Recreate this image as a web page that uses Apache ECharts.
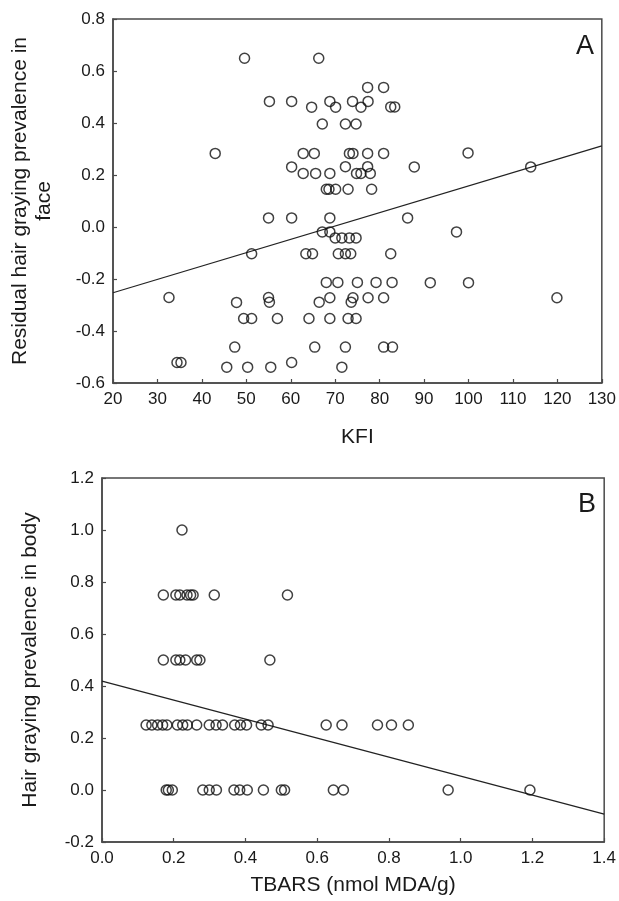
<!DOCTYPE html>
<html>
<head>
<meta charset="utf-8">
<script src="https://cdn.jsdelivr.net/npm/echarts@6/dist/echarts.min.js"></script>
<style>
  html, body { margin: 0; padding: 0; background: #fff; }
  #chart { width: 619px; height: 901px; }
</style>
</head>
<body>
<div id="chart"></div>
<script>
// Panel A: KFI vs residual hair graying prevalence in face
const kfi = [
  49.6, 66.3,
  77.3, 80.9,
  55.2, 60.2, 64.7, 68.8, 70.1, 73.9, 75.8, 77.4, 82.5, 83.4,
  67.1, 72.3, 74.7,
  43.0, 62.8, 65.3, 73.2, 74.0, 77.3, 80.9, 99.9,
  60.2, 72.3, 77.3, 87.8, 114.0,
  62.8, 65.6, 68.8, 74.8, 75.8, 77.9,
  68.0, 68.6, 70.1, 72.9, 78.2,
  55.0, 60.2, 68.8, 86.3,
  67.1, 68.8, 97.3,
  70.0, 71.5, 73.2, 74.7,
  51.2, 63.4, 64.9, 70.7, 72.3, 73.5, 82.5,
  68.0, 70.6, 75.0, 79.2, 82.8, 91.4, 100.0,
  32.6, 55.0, 68.8, 74.0, 77.4, 80.9, 119.9,
  47.8, 55.2, 66.4, 73.6,
  49.4, 51.2, 57.0, 64.1, 68.8, 72.9, 74.7,
  47.4, 65.4, 72.3, 80.9, 82.9,
  34.4, 35.3, 60.2,
  45.6, 50.3, 55.5, 71.5
];
const faceResidual = [
  0.649, 0.649,
  0.537, 0.537,
  0.483, 0.483, 0.461, 0.483, 0.461, 0.483, 0.461, 0.483, 0.462, 0.462,
  0.396, 0.396, 0.396,
  0.283, 0.283, 0.283, 0.283, 0.283, 0.283, 0.283, 0.285,
  0.231, 0.232, 0.232, 0.231, 0.231,
  0.206, 0.206, 0.206, 0.206, 0.206, 0.206,
  0.145, 0.145, 0.145, 0.145, 0.145,
  0.035, 0.035, 0.035, 0.035,
  -0.019, -0.019, -0.019,
  -0.042, -0.042, -0.042, -0.042,
  -0.103, -0.103, -0.103, -0.103, -0.103, -0.103, -0.103,
  -0.213, -0.213, -0.213, -0.213, -0.213, -0.214, -0.214,
  -0.271, -0.271, -0.272, -0.272, -0.272, -0.272, -0.272,
  -0.290, -0.289, -0.289, -0.289,
  -0.352, -0.352, -0.352, -0.352, -0.352, -0.352, -0.352,
  -0.462, -0.462, -0.462, -0.462, -0.462,
  -0.521, -0.521, -0.521,
  -0.539, -0.539, -0.539, -0.539
];
// fitted regression line, endpoints at the axis limits
const fitAx = [20, 130];
const fitAy = [-0.253, 0.312];

// Panel B: TBARS vs hair graying prevalence in body
const tbars = [
  0.223,
  0.171, 0.206, 0.217, 0.237, 0.247, 0.254, 0.313, 0.517,
  0.171, 0.206, 0.217, 0.233, 0.264, 0.273, 0.468,
  0.123, 0.139, 0.155, 0.169, 0.181, 0.210, 0.225, 0.238, 0.264, 0.299, 0.318,
  0.336, 0.370, 0.386, 0.403, 0.444, 0.463, 0.625, 0.669, 0.768, 0.807, 0.854,
  0.179, 0.185, 0.196, 0.281, 0.299, 0.319, 0.368, 0.384, 0.405, 0.450,
  0.500, 0.509, 0.645, 0.673, 0.965, 1.193
];
const bodyPrevalence = [
  1.0,
  0.75, 0.75, 0.75, 0.75, 0.75, 0.75, 0.75, 0.75,
  0.5, 0.5, 0.5, 0.5, 0.5, 0.5, 0.5,
  0.25, 0.25, 0.25, 0.25, 0.25, 0.25, 0.25, 0.25, 0.25, 0.25, 0.25,
  0.25, 0.25, 0.25, 0.25, 0.25, 0.25, 0.25, 0.25, 0.25, 0.25, 0.25,
  0, 0, 0, 0, 0, 0, 0, 0, 0, 0,
  0, 0, 0, 0, 0, 0
];
const fitBx = [0, 1.4];
const fitBy = [0.419, -0.093];

const kfiTicks = { min: 20, max: 130, step: 10 };
const faceTicks = { min: -0.6, max: 0.8, step: 0.2 };
const tbarsTicks = { min: 0, max: 1.4, step: 0.2 };
const bodyTicks = { min: -0.2, max: 1.2, step: 0.2 };

const FONT = 'Liberation Sans, Arial, sans-serif';
const INK = '#1a1a1a';
const FRAME = '#4a4a4a';

const pairs = (xs, ys) => xs.map((x, i) => [x, ys[i]]);

function valueAxis(t, gridIndex, extra) {
  return Object.assign({
    type: 'value',
    gridIndex: gridIndex,
    min: t.min,
    max: t.max,
    interval: t.step,
    splitLine: { show: false },
    axisLine: { show: true, onZero: false, lineStyle: { color: FRAME, width: 1.5 } },
    axisTick: { show: true, inside: true, length: 4, lineStyle: { color: FRAME, width: 1.2 } },
    axisLabel: {
      color: INK, fontFamily: FONT, fontSize: 17,
      formatter: v => (t.step < 1 ? v.toFixed(1) : String(v))
    },
    nameLocation: 'middle',
    nameTextStyle: { color: INK, fontFamily: FONT, fontSize: 21, lineHeight: 24 }
  }, extra);
}

const scatterStyle = {
  type: 'scatter',
  symbol: 'circle',
  symbolSize: 10,
  itemStyle: { color: 'rgba(255,255,255,0)', borderColor: '#111', borderWidth: 1.5 },
  silent: true
};
const fitStyle = {
  type: 'line',
  symbol: 'none',
  lineStyle: { color: '#222', width: 1.2 },
  silent: true,
  z: 1
};

const chart = echarts.init(document.getElementById('chart'), null, { renderer: 'canvas' });
chart.setOption({
  animation: false,
  backgroundColor: '#ffffff',
  title: [
    { text: 'A', right: 20, top: 28, textStyle: { fontFamily: FONT, fontSize: 27, fontWeight: 'normal', color: INK } },
    { text: 'B', right: 18, top: 486, textStyle: { fontFamily: FONT, fontSize: 27, fontWeight: 'normal', color: INK } }
  ],
  grid: [
    { left: 112, right: 16, top: 19, height: 364, show: true, borderColor: FRAME, borderWidth: 1.5 },
    { left: 102, right: 14, top: 478, height: 364, show: true, borderColor: FRAME, borderWidth: 1.5 }
  ],
  xAxis: [
    valueAxis(kfiTicks, 0, { name: 'KFI', nameGap: 42, axisLabel: { color: INK, fontFamily: FONT, fontSize: 17, margin: 8 } }),
    valueAxis(tbarsTicks, 1, { name: 'TBARS (nmol MDA/g)', nameGap: 31,
      axisLabel: { color: INK, fontFamily: FONT, fontSize: 17, margin: 8, formatter: v => v.toFixed(1) } })
  ],
  yAxis: [
    valueAxis(faceTicks, 0, { name: 'Residual hair graying prevalence in\nface', nameGap: 57 }),
    valueAxis(bodyTicks, 1, { name: 'Hair graying prevalence in body', nameGap: 60 })
  ],
  series: [
    Object.assign({}, fitStyle, { xAxisIndex: 0, yAxisIndex: 0, data: pairs(fitAx, fitAy) }),
    Object.assign({}, scatterStyle, { xAxisIndex: 0, yAxisIndex: 0, data: pairs(kfi, faceResidual) }),
    Object.assign({}, fitStyle, { xAxisIndex: 1, yAxisIndex: 1, data: pairs(fitBx, fitBy) }),
    Object.assign({}, scatterStyle, { xAxisIndex: 1, yAxisIndex: 1, data: pairs(tbars, bodyPrevalence) })
  ]
});
</script>
</body>
</html>
